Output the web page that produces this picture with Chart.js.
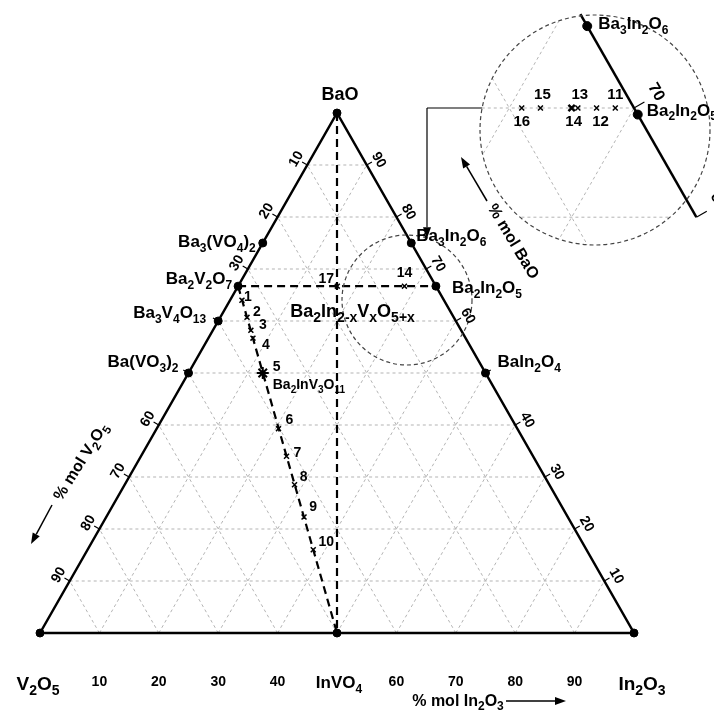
<!DOCTYPE html>
<html>
<head>
<meta charset="utf-8">
<script src="https://cdn.jsdelivr.net/npm/chart.js@4.4.1/dist/chart.umd.min.js"></script>
<style>
  html, body { margin: 0; padding: 0; background: #fff; }
  canvas { display: block; }
</style>
</head>
<body>
<canvas id="myChart" width="714" height="713"></canvas>
<script>
// compositions in mol % (V2O5 is whatever is left)
const compoundNames = ['BaO', 'V_2O_5', 'In_2O_3', 'InVO_4', 'Ba_3(VO_4)_2', 'Ba_2V_2O_7', 'Ba_3V_4O_{13}', 'Ba(VO_3)_2', 'Ba_3In_2O_6', 'Ba_2In_2O_5', 'BaIn_2O_4'];
const compoundBaO = [100, 0, 0, 0, 75, 66.7, 60, 50, 75, 66.7, 50];
const compoundIn2O3 = [0, 0, 100, 50, 0, 0, 0, 0, 25, 33.3, 50];

const tieLines = [['Ba_2V_2O_7', 'InVO_4'], ['Ba_2V_2O_7', 'Ba_2In_2O_5'], ['BaO', 'InVO_4']];

// samples
const sampleLabels = ['1', '2', '3', '4', '5', '6', '7', '8', '9', '10', '14', '17'];
const sampleBaO = [64.0, 60.7, 58.2, 56.7, 50.0, 39.3, 34.0, 28.5, 22.3, 16.0, 66.7, 66.7];
const sampleIn2O3 = [2.0, 4.5, 6.4, 7.5, 12.5, 20.5, 24.5, 28.6, 33.3, 38.0, 28.0, 16.7];

// enlarged view (drawn on the 70 % BaO line of the inset)
const insetLabels = ['11', '12', '13', '14', '15', '16'];
const insetBaO = [70, 70, 70, 70, 70, 70];
const insetIn2O3 = [28.5, 27.0, 25.5, 25.0, 22.5, 21.0];
const insetCompoundNames = ['Ba_3In_2O_6', 'Ba_2In_2O_5'];
const insetCompoundBaO = [77.5, 69.4];

const gridSteps = [10, 20, 30, 40, 50, 60, 70, 80, 90];
const leftTicks = [10, 20, 30, 60, 70, 80, 90];      // % mol V2O5
const rightTicks = [90, 80, 70, 60, 40, 30, 20, 10]; // % mol BaO
const bottomTicks = [10, 20, 30, 40, 60, 70, 80, 90]; // % mol In2O3

// layout
const tri = { left: 40, right: 634, top: 113, bottom: 633 };
const zoom = 2.1, insetAnchor = { px: 634, py: 108 }; // inset pixel of (70 BaO, 30 In2O3)
const smallCircle = { x: 407, y: 300, r: 65 };
const insetCircle = { x: 595, y: 130, r: 115 };
const FONT = '"Liberation Sans", Arial, sans-serif';

const W = 714, H = 713;
const pxX = (tri.right - tri.left) / 100, pxY = (tri.bottom - tri.top) / 100;
const xMin = -tri.left / pxX, yMax = 100 + tri.top / pxY;
const ixMin = 65 - insetAnchor.px / (pxX * zoom), iyMax = 70 + insetAnchor.py / (pxY * zoom);

const tern = (ba, inn) => ({ x: inn + ba / 2, y: ba });
const compound = name => compoundNames.indexOf(name);

function gridSegments() {
  const segs = [];
  gridSteps.forEach(v => {
    segs.push([[v, 0], [v, 100 - v]]);
    segs.push([[0, v], [100 - v, v]]);
    segs.push([[0, 100 - v], [100 - v, 0]]);
  });
  return segs;
}

const datasets = [];
const lineDs = (data, extra) => Object.assign({
  data: data, showLine: true, pointRadius: 0, borderColor: '#000', borderWidth: 1,
  fill: false, clip: false
}, extra);

// markers first (drawn on top)
datasets.push({
  data: sampleBaO.map((b, i) => tern(b, sampleIn2O3[i])),
  pointStyle: sampleLabels.map(l => l === '5' ? 'star' : 'crossRot'),
  pointRadius: sampleLabels.map(l => l === '5' ? 6 : 3.5),
  pointBorderWidth: sampleLabels.map(l => l === '5' ? 2 : 1.5),
  borderColor: '#000', backgroundColor: '#000', showLine: false, clip: false, order: 0
});
datasets.push({
  data: insetBaO.map((b, i) => tern(b, insetIn2O3[i])),
  xAxisID: 'xi', yAxisID: 'yi',
  pointStyle: 'crossRot',
  pointRadius: insetLabels.map(l => l === '14' ? 4.5 : 3.5),
  pointBorderWidth: insetLabels.map(l => l === '14' ? 2.5 : 1.5),
  borderColor: '#000', backgroundColor: '#000', showLine: false, clip: false, order: 0
});
datasets.push({
  data: compoundBaO.map((b, i) => tern(b, compoundIn2O3[i])),
  pointStyle: 'circle', pointRadius: 4, borderColor: '#000', backgroundColor: '#000',
  showLine: false, clip: false, order: 1
});
datasets.push({
  data: insetCompoundBaO.map(b => tern(b, 100 - b)),
  xAxisID: 'xi', yAxisID: 'yi',
  pointStyle: 'circle', pointRadius: 4.5, borderColor: '#000', backgroundColor: '#000',
  showLine: false, clip: false, order: 1
});
tieLines.forEach(([a, b]) => {
  const ia = compound(a), ib = compound(b);
  datasets.push(lineDs([tern(compoundBaO[ia], compoundIn2O3[ia]), tern(compoundBaO[ib], compoundIn2O3[ib])],
    { borderWidth: 2.2, borderDash: [8, 5], order: 2 }));
});
datasets.push(lineDs([tern(0, 0), tern(0, 100), tern(100, 0), tern(0, 0)], { borderWidth: 2.5, order: 3 }));
datasets.push(lineDs([tern(78.6, 21.4), tern(60, 40)], { xAxisID: 'xi', yAxisID: 'yi', borderWidth: 2.5, order: 3 }));
gridSegments().forEach(s => {
  datasets.push(lineDs([tern(s[0][0], s[0][1]), tern(s[1][0], s[1][1])],
    { borderColor: '#b4b4b4', borderDash: [3, 3], order: 10 }));
  datasets.push(lineDs([tern(s[0][0], s[0][1]), tern(s[1][0], s[1][1])],
    { xAxisID: 'xi', yAxisID: 'yi', borderColor: '#b4b4b4', borderDash: [3, 3], order: 10, clipCircle: insetCircle }));
});

function parseFormula(str) {
  const parts = [];
  let i = 0;
  while (i < str.length) {
    if (str[i] === '_') {
      let sub;
      if (str[i + 1] === '{') { const j = str.indexOf('}', i); sub = str.slice(i + 2, j); i = j + 1; }
      else { sub = str[i + 1]; i += 2; }
      parts.push({ t: sub, sub: true });
    } else {
      let j = i;
      while (j < str.length && str[j] !== '_') j++;
      parts.push({ t: str.slice(i, j), sub: false });
      i = j;
    }
  }
  return parts;
}

function drawFormula(ctx, str, x, y, size, align, subRatio) {
  const parts = parseFormula(str);
  const subSize = Math.round(size * (subRatio || 0.72));
  let w = 0;
  parts.forEach(p => {
    ctx.font = 'bold ' + (p.sub ? subSize : size) + 'px ' + FONT;
    p.w = ctx.measureText(p.t).width;
    w += p.w;
  });
  let cx = align === 'left' ? x : align === 'right' ? x - w : x - w / 2;
  ctx.textAlign = 'left';
  ctx.textBaseline = 'alphabetic';
  parts.forEach(p => {
    ctx.font = 'bold ' + (p.sub ? subSize : size) + 'px ' + FONT;
    ctx.fillText(p.t, cx, p.sub ? y + size * 0.28 : y);
    cx += p.w;
  });
}

function rotatedText(ctx, str, x, y, size, deg) {
  ctx.save();
  ctx.translate(x, y);
  ctx.rotate(deg * Math.PI / 180);
  drawFormula(ctx, str, 0, size * 0.36, size, 'center');
  ctx.restore();
}

function arrow(ctx, x1, y1, x2, y2) {
  const a = Math.atan2(y2 - y1, x2 - x1), L = 11, Wd = 4;
  ctx.beginPath();
  ctx.moveTo(x1, y1);
  ctx.lineTo(x2 - L * Math.cos(a), y2 - L * Math.sin(a));
  ctx.stroke();
  ctx.beginPath();
  ctx.moveTo(x2, y2);
  ctx.lineTo(x2 - L * Math.cos(a) + Wd * Math.sin(a), y2 - L * Math.sin(a) - Wd * Math.cos(a));
  ctx.lineTo(x2 - L * Math.cos(a) - Wd * Math.sin(a), y2 - L * Math.sin(a) + Wd * Math.cos(a));
  ctx.closePath();
  ctx.fill();
}

// label placement (pixels relative to the mark)
const compoundLabelPos = {
  'BaO': [3, -13, 'center', 18], 'V_2O_5': [-2, 57, 'center', 19], 'In_2O_3': [8, 57, 'center', 19],
  'InVO_4': [2, 55, 'center', 17], 'Ba_3(VO_4)_2': [-7, 4, 'right', 17], 'Ba_2V_2O_7': [-6, -2, 'right', 17],
  'Ba_3V_4O_{13}': [-12, -3, 'right', 17], 'Ba(VO_3)_2': [-10, -6, 'right', 17],
  'Ba_3In_2O_6': [5, -2, 'left', 17], 'Ba_2In_2O_5': [16, 7, 'left', 17], 'BaIn_2O_4': [12, -6, 'left', 17]
};
const sampleLabelPos = {
  '1': [6, -3], '2': [10, -5], '3': [12, -5], '4': [13, 7], '5': [14, -6], '6': [11, -8], '7': [11, -3],
  '8': [9, -8], '9': [9, -10], '10': [13, -8], '14': [0, -13], '17': [-11, -7]
};
const insetLabelPos = { '11': [0, -13], '12': [4, 14], '13': [2, -13], '14': [2, 14], '15': [2, -13], '16': [0, 14] };
const insetCompoundLabelPos = { 'Ba_3In_2O_6': [11, 3], 'Ba_2In_2O_5': [9, 1] };

const decor = {
  id: 'decor',
  beforeDatasetDraw(chart, args) {
    const c = chart.data.datasets[args.index].clipCircle;
    if (!c) return;
    const ctx = chart.ctx;
    ctx.save();
    ctx.beginPath();
    ctx.arc(c.x, c.y, c.r, 0, Math.PI * 2);
    ctx.clip();
  },
  afterDatasetDraw(chart, args) {
    if (chart.data.datasets[args.index].clipCircle) chart.ctx.restore();
  },
  afterDatasetsDraw(chart) {
    const ctx = chart.ctx;
    const sx = chart.scales.x, sy = chart.scales.y, six = chart.scales.xi, siy = chart.scales.yi;
    const P = (ba, inn) => ({ x: sx.getPixelForValue(inn + ba / 2), y: sy.getPixelForValue(ba) });
    const PI = (ba, inn) => ({ x: six.getPixelForValue(inn + ba / 2), y: siy.getPixelForValue(ba) });
    ctx.save();
    ctx.fillStyle = '#000';
    ctx.strokeStyle = '#000';

    // dashed circles
    ctx.lineWidth = 1.2;
    ctx.strokeStyle = '#444';
    ctx.setLineDash([4, 3]);
    [smallCircle, insetCircle].forEach(c => {
      ctx.beginPath();
      ctx.arc(c.x, c.y, c.r, 0, Math.PI * 2);
      ctx.stroke();
    });
    ctx.setLineDash([]);

    // connector arrow between the circles
    ctx.strokeStyle = '#000';
    ctx.lineWidth = 1.2;
    const ay = insetAnchor.py, ax = 427;
    const startX = insetCircle.x - Math.sqrt(insetCircle.r ** 2 - (ay - insetCircle.y) ** 2);
    const endY = smallCircle.y - Math.sqrt(smallCircle.r ** 2 - (ax - smallCircle.x) ** 2);
    ctx.beginPath();
    ctx.moveTo(startX, ay);
    ctx.lineTo(ax, ay);
    ctx.stroke();
    arrow(ctx, ax, ay, ax, endY);

    // side ticks
    ctx.lineWidth = 1.2;
    const nL = [-0.868, -0.496], nR = [0.868, -0.496];
    gridSteps.forEach(v => {
      const l = P(100 - v, 0), r = P(v, 100 - v);
      ctx.beginPath();
      ctx.moveTo(l.x, l.y); ctx.lineTo(l.x + 6 * nL[0], l.y + 6 * nL[1]);
      ctx.moveTo(r.x, r.y); ctx.lineTo(r.x + 6 * nR[0], r.y + 6 * nR[1]);
      ctx.stroke();
    });
    [70, 60].forEach(v => {
      const r = PI(v, 100 - v);
      ctx.beginPath();
      ctx.moveTo(r.x, r.y); ctx.lineTo(r.x + 12 * nR[0], r.y + 12 * nR[1]);
      ctx.stroke();
    });

    // tick labels
    ctx.textAlign = 'center';
    ctx.textBaseline = 'middle';
    ctx.font = 'bold 14px ' + FONT;
    leftTicks.forEach(v => {
      const p = P(100 - v, 0);
      ctx.save(); ctx.translate(p.x - 11, p.y - 6); ctx.rotate(-Math.PI / 3);
      ctx.fillText(String(v), 0, 0); ctx.restore();
    });
    rightTicks.forEach(v => {
      const p = P(v, 100 - v);
      ctx.save(); ctx.translate(p.x + 12, p.y - 5); ctx.rotate(Math.PI / 3);
      ctx.fillText(String(v), 0, 0); ctx.restore();
    });
    ctx.textBaseline = 'alphabetic';
    bottomTicks.forEach(v => {
      const p = P(0, v);
      ctx.fillText(String(v), p.x, 686);
    });
    ctx.font = 'bold 16px ' + FONT;
    ctx.textBaseline = 'middle';
    [70, 60].forEach(v => {
      const p = PI(v, 100 - v);
      ctx.save(); ctx.translate(p.x + 22, p.y - 16); ctx.rotate(Math.PI / 3);
      ctx.fillText(String(v), 0, 0); ctx.restore();
    });

    // compound labels
    compoundNames.forEach((n, i) => {
      const p = P(compoundBaO[i], compoundIn2O3[i]), o = compoundLabelPos[n];
      drawFormula(ctx, n, p.x + o[0], p.y + o[1], o[3], o[2]);
    });
    insetCompoundNames.forEach((n, i) => {
      const p = PI(insetCompoundBaO[i], 100 - insetCompoundBaO[i]), o = insetCompoundLabelPos[n];
      drawFormula(ctx, n, p.x + o[0], p.y + o[1], 17, 'left');
    });
    const s5 = sampleLabels.indexOf('5'), s17 = sampleLabels.indexOf('17');
    const p5 = P(sampleBaO[s5], sampleIn2O3[s5]);
    drawFormula(ctx, 'Ba_2InV_3O_{11}', p5.x + 10, p5.y + 16, 14, 'left');
    const p17 = P(sampleBaO[s17], sampleIn2O3[s17]);
    drawFormula(ctx, 'Ba_2In_{2-x}V_xO_{5+x}', p17.x - 47, p17.y + 31, 18, 'left', 0.78);

    // sample numbers
    ctx.textAlign = 'center';
    ctx.textBaseline = 'middle';
    ctx.font = 'bold 14px ' + FONT;
    sampleLabels.forEach((l, i) => {
      const p = P(sampleBaO[i], sampleIn2O3[i]), o = sampleLabelPos[l];
      ctx.fillText(l, p.x + o[0], p.y + o[1]);
    });
    ctx.font = 'bold 15px ' + FONT;
    insetLabels.forEach((l, i) => {
      const p = PI(insetBaO[i], insetIn2O3[i]), o = insetLabelPos[l];
      ctx.fillText(l, p.x + o[0], p.y + o[1]);
    });

    // axis titles
    ctx.lineWidth = 1.5;
    drawFormula(ctx, '% mol In_2O_3', 458, 706, 16, 'center');
    arrow(ctx, 506, 701, 566, 701);
    rotatedText(ctx, '% mol V_2O_5', 80, 461, 16, -58);
    arrow(ctx, 52, 505, 31, 544);
    rotatedText(ctx, '% mol BaO', 514, 241, 16, 59);
    arrow(ctx, 487, 201, 461, 157);
    ctx.restore();
  }
};

new Chart(document.getElementById('myChart'), {
  type: 'scatter',
  data: { datasets: datasets },
  options: {
    responsive: false,
    animation: false,
    devicePixelRatio: 1,
    events: [],
    layout: { padding: 0, autoPadding: false },
    plugins: { legend: { display: false }, tooltip: { enabled: false } },
    scales: {
      x: { type: 'linear', display: false, min: xMin, max: xMin + W / pxX },
      y: { type: 'linear', display: false, min: yMax - H / pxY, max: yMax },
      xi: { type: 'linear', axis: 'x', display: false, min: ixMin, max: ixMin + W / (pxX * zoom) },
      yi: { type: 'linear', axis: 'y', display: false, min: iyMax - H / (pxY * zoom), max: iyMax }
    }
  },
  plugins: [decor]
});
</script>
</body>
</html>
